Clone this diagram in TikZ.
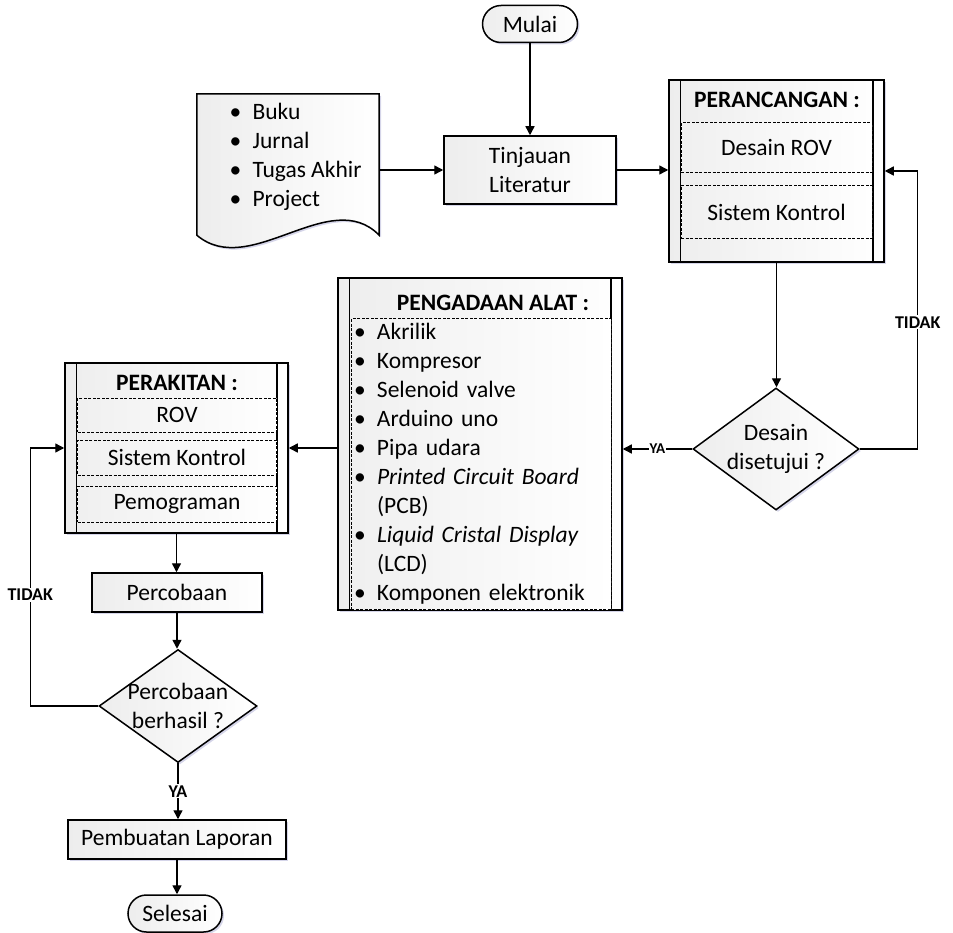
\documentclass[tikz,border=0pt]{standalone}
\usepackage{fontspec}
\setmainfont{Carlito}
\usetikzlibrary{shapes.geometric,shapes.misc,shadows,arrows.meta,positioning}

\newcommand{\teks}{\fontsize{23.5}{29}\selectfont}
\newcommand{\lbl}{\fontsize{18}{20}\selectfont\bfseries}
\newcommand{\lblkecil}{\fontsize{15}{17}\selectfont\bfseries}
\newcommand{\itm}[1]{\makebox[23pt][l]{\textbullet}#1}

\tikzset{
  bayang/.style={drop shadow={shadow xshift=2pt, shadow yshift=-2pt, opacity=0.25, fill=blue!30!gray}},
  kotak/.style={draw, line width=1.5pt, left color=black!7, right color=white, inner sep=0pt, font=\teks, bayang},
  terminal/.style={kotak, rounded rectangle, minimum height=37pt},
  proses/.style={kotak, rectangle, align=center},
  keputusan/.style={kotak, diamond},
  subproses/.style={kotak, rectangle},
  isian/.style={draw, line width=1pt, dash pattern=on 3pt off 1.5pt, left color=black!6, right color=white, inner sep=0pt, font=\teks},
  panah/.style={line width=1.4pt, -{Triangle[length=9pt,width=9pt]}},
  garis/.style={line width=1.5pt},
  ket/.style={fill=white, inner sep=1pt, font=\lbl},
}

\begin{document}
\begin{tikzpicture}[x=1pt,y=1pt,yscale=-1]
\useasboundingbox (0,0) rectangle (953,933);

% mulai dan tinjauan
\node[terminal, minimum width=95pt] (mulai) at (530,24) {Mulai};
\node[proses, minimum width=172pt, minimum height=68pt] (tinjauan) at (530,170) {Tinjauan\\Literatur};

% sumber literatur (dokumen)
\node[minimum width=182pt, minimum height=141pt, inner sep=0pt] (sumber) at (288,164.5) {};
\draw[kotak] (sumber.north west) -- (sumber.north east) -- (sumber.south east)
  .. controls (330,185) and (250,280) .. (sumber.south west) -- cycle;
\node[font=\teks, align=left, anchor=west] (sumbertxt) at (226,156.5)
  {\itm{Buku}\\\itm{Jurnal}\\\itm{Tugas Akhir}\\\itm{Project}};

% perancangan
\node[subproses, minimum width=215pt, minimum height=182pt] (perancangan) at (776.5,171) {};
\draw[garis] ([xshift=12pt]perancangan.north west) -- ([xshift=12pt]perancangan.south west);
\draw[garis] ([xshift=-12pt]perancangan.north east) -- ([xshift=-12pt]perancangan.south east);
\node[font=\teks\bfseries] (judulrancang) at (777,100) {PERANCANGAN :};
\node[isian, minimum width=191pt, minimum height=50pt] (desainrov) at (776.5,148) {Desain ROV};
\node[isian, minimum width=191pt, minimum height=53pt] (kontrolrancang) at (776.5,212.5) {Sistem Kontrol};

% keputusan desain
\node[keputusan, minimum width=166pt, minimum height=122pt] (setuju) at (776,449) {};
\node[font=\teks, align=center] (setujutxt) at (setuju) {Desain\\disetujui ?};

% pengadaan alat
\node[subproses, minimum width=284pt, minimum height=332pt] (pengadaan) at (480,444) {};
\draw[garis] ([xshift=12pt]pengadaan.north west) -- ([xshift=12pt]pengadaan.south west);
\draw[garis] ([xshift=-12pt]pengadaan.north east) -- ([xshift=-12pt]pengadaan.south east);
\node[font=\teks\bfseries] (judulalat) at (493,303) {PENGADAAN ALAT :};
\node[isian, minimum width=260pt, minimum height=290pt, inner xsep=3pt, text width=254pt, align=left] (alat) at (481,464)
  {\itm{Akrilik}\\\itm{Kompresor}\\\itm{Selenoid valve}\\\itm{Arduino uno}\\\itm{Pipa udara}\\
   \itm{\textit{Printed Circuit Board}}\\\hspace*{23pt}(PCB)\\
   \itm{\textit{Liquid Cristal Display}}\\\hspace*{23pt}(LCD)\\\itm{Komponen elektronik}};

% perakitan
\node[subproses, minimum width=223pt, minimum height=170pt] (perakitan) at (176.5,448) {};
\draw[garis] ([xshift=12pt]perakitan.north west) -- ([xshift=12pt]perakitan.south west);
\draw[garis] ([xshift=-12pt]perakitan.north east) -- ([xshift=-12pt]perakitan.south east);
\node[font=\teks\bfseries] (judulrakit) at (177,383) {PERAKITAN :};
\node[isian, minimum width=199pt, minimum height=34pt] (rov) at (177,415) {ROV};
\node[isian, minimum width=199pt, minimum height=35pt] (kontrolrakit) at (177,457.5) {Sistem Kontrol};
\node[isian, minimum width=199pt, minimum height=36pt] (program) at (177,504) {Pemograman};

% percobaan sampai selesai
\node[proses, minimum width=170pt, minimum height=39pt] (percobaan) at (177,592.5) {Percobaan};
\node[keputusan, minimum width=158pt, minimum height=113pt] (berhasil) at (178,706) {};
\node[font=\teks, align=center] (berhasiltxt) at (berhasil) {Percobaan\\berhasil ?};
\node[proses, minimum width=218pt, minimum height=39pt] (laporan) at (177,839.5) {Pembuatan Laporan};
\node[terminal, minimum width=94pt] (selesai) at (175,913.5) {Selesai};

% penghubung
\draw[panah] (mulai.south) -- (mulai.south |- tinjauan.north);
\draw[panah] (sumber.east |- tinjauan.west) -- (tinjauan.west);
\draw[panah] (tinjauan.east) -- (tinjauan.east -| perancangan.west);
\draw[panah] (perancangan.south) -- (perancangan.south |- setuju.north);
\draw[panah] (setuju.east) -- ++(58,0) |- (perancangan.east) node[ket, pos=0.228] (tidakkanan) {TIDAK};
\draw[panah] (setuju.west) -- (setuju.west -| pengadaan.east) node[ket, font=\lblkecil, midway] (yakanan) {YA};
\draw[panah] (pengadaan.west |- perakitan.east) -- (perakitan.east);
\draw[panah] (perakitan.south) -- (perakitan.south |- percobaan.north);
\draw[panah] (percobaan.south) -- (percobaan.south |- berhasil.north);
\draw[panah] (berhasil.west) -- ++(-68,0) |- (perakitan.west) node[ket, pos=0.215] (tidakkiri) {TIDAK};
\draw[panah] (berhasil.south) -- (berhasil.south |- laporan.north) node[ket, midway] (yakiri) {YA};
\draw[panah] (laporan.south) -- (laporan.south |- selesai.north);
\end{tikzpicture}
\end{document}
